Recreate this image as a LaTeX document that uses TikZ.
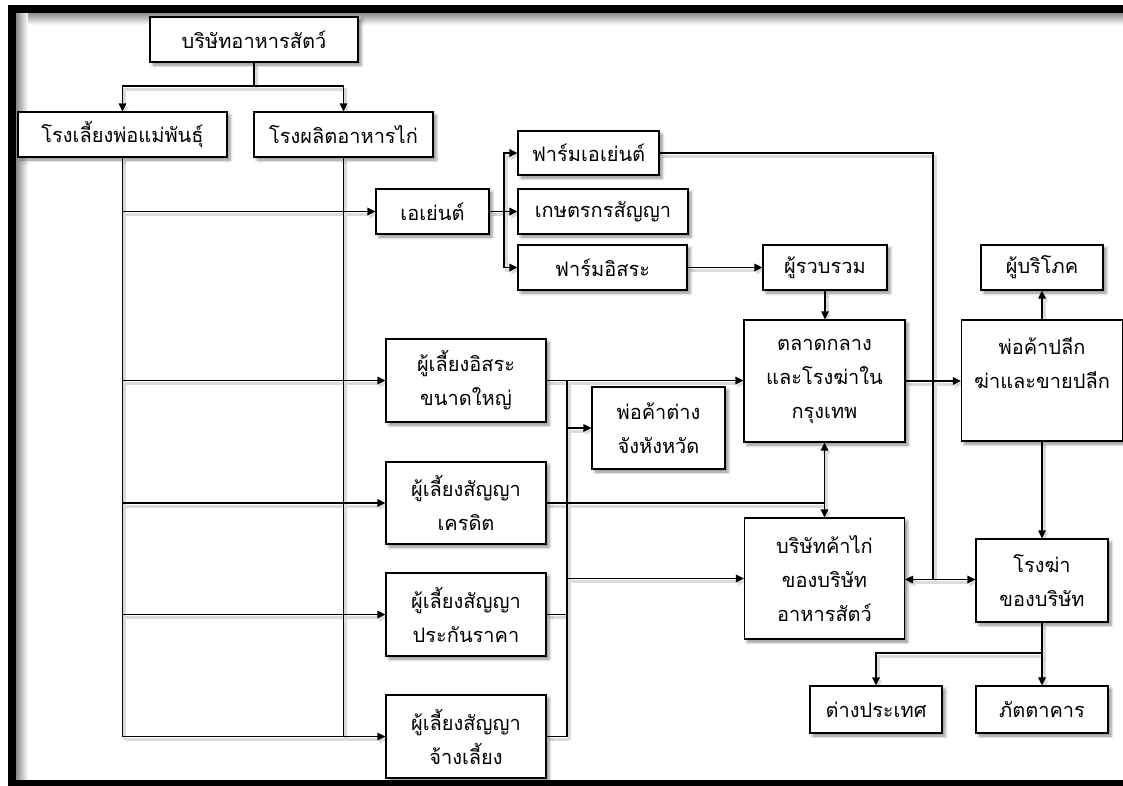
\documentclass[tikz,border=0pt]{standalone}
\usepackage{fontspec}
\newfontfamily\thaifont[Script=Thai]{Loma}
\usetikzlibrary{arrows.meta,shadows.blur}
\pgfdeclarelayer{bg}
\pgfsetlayers{bg,main}

\tikzset{
  box/.style={draw, line width=1.1pt, fill=white, inner sep=2pt, align=center,
    font=\thaifont\fontsize{20}{34}\selectfont,
    blur shadow={shadow xshift=3pt, shadow yshift=-3pt, shadow blur radius=3pt, shadow opacity=45}},
  conn/.style={line width=1.1pt},
  arr/.style={conn, -{Triangle[length=8pt,width=7.5pt]}},
  darr/.style={conn, {Triangle[length=8pt,width=7.5pt]}-{Triangle[length=8pt,width=7.5pt]}},
}
% \bx{name}{x}{y}{width}{height}{text}
\newcommand\bx[6]{\node[box, minimum width=#4pt, minimum height=#5pt] (#1) at (#2,#3) {#6};}

% all connectors, drawn once as a soft shadow and once in black
\newcommand\connectors{%
  % head office to its two units
  \coordinate (t1) at (254,86);
  \draw[conn] (top.south) -- (t1);
  \draw[arr] (t1) -| (breed.north);
  \draw[arr] (t1) -| (feed.north);
  % two trunks running down the left side
  \draw[conn] (breed.south) -- (breed.south |- hire.west);
  \draw[conn] (feed.south) -- (feed.south |- hire.west);
  \draw[arr] (breed.south |- agent.west) -- (agent.west);
  \draw[arr] (breed.south |- bigfree.west) -- (bigfree.west);
  \draw[arr] (breed.south |- credit.west) -- (credit.west);
  \draw[arr] (breed.south |- price.west) -- (price.west);
  \draw[arr] (breed.south |- hire.west) -- (hire.west);
  % agent splits into three farm types
  \coordinate (a1) at (504,211.5);
  \draw[conn] (agent.east) -- (a1);
  \draw[arr] (a1) |- (fagent.west);
  \draw[arr] (a1) -- (contract.west);
  \draw[arr] (a1) |- (ffree.west);
  % agent farms to the company's outlets
  \coordinate (j2) at (933,579.5);
  \draw[conn] (fagent.east) -| (j2);
  \draw[arr] (j2) -- (j2 -| company.east);
  \draw[arr] (j2) -- (j2 -| slaughter.west);
  % independent farms via collectors to the Bangkok market
  \draw[arr] (ffree.east) -- (collector.west);
  \draw[arr] (collector.south) -- (collector.south |- market.north);
  \draw[arr] (market.east) -- (market.east -| retail.west);
  \draw[arr] (retail.north) -- (consumer.south);
  \draw[arr] (retail.south) -- (slaughter.north);
  % large independent growers
  \coordinate (v1) at (567,380.5);
  \coordinate (v2) at (567,736.5);
  \draw[arr] (bigfree.east) -- (bigfree.east -| market.west);
  \draw[conn] (v1) -- (v2);
  \draw[arr] (v1 |- provincial.west) -- (provincial.west);
  % contract growers
  \draw[conn] (price.east) -- (price.east -| v1);
  \draw[conn] (hire.east) -- (v2);
  \draw[arr] (v1 |- company.west) -- (company.west);
  \coordinate (c1) at (market.south |- credit.east);
  \draw[conn] (credit.east) -- (c1);
  \draw[darr] (market.south) -- (company.north);
  % company slaughterhouse outlets
  \coordinate (s1) at (1042,653);
  \draw[conn] (slaughter.south) -- (s1);
  \draw[arr] (s1) -| (abroad.north);
  \draw[arr] (s1) -- (restaurant.north);
}

\begin{document}
\begin{tikzpicture}[x=1pt,y=-1pt]
\useasboundingbox (0,0) rectangle (1123,785);
\clip (0,0) rectangle (1123,785);

% frame with inner shading
\shade[top color=black!45, bottom color=white] (16,13) rectangle (1123,25);
\shade[left color=black!45, right color=white] (16,13) rectangle (28,780);
\draw[line width=8pt] (1130,9) -- (12,9) -- (12,784) -- (1130,784);

% boxes
\bx{top}{254}{39.5}{208}{45}{บริษัทอาหารสัตว์}
\bx{breed}{122.5}{134.5}{209}{45}{โรงเลี้ยงพ่อแม่พันธุ์}
\bx{feed}{343.5}{134.5}{179}{45}{โรงผลิตอาหารไก่}
\bx{agent}{432.5}{211.5}{113}{45}{เอเย่นต์}
\bx{fagent}{588.5}{153}{141}{44}{ฟาร์มเอเย่นต์}
\bx{contract}{603}{211.5}{170}{45}{เกษตรกรสัญญา}
\bx{ffree}{602.5}{267.5}{169}{45}{ฟาร์มอิสระ}
\bx{collector}{825}{267.5}{124}{45}{ผู้รวบรวม}
\bx{consumer}{1042}{267.5}{122}{45}{ผู้บริโภค}
\bx{market}{824.5}{381}{161}{122}{ตลาดกลาง\\และโรงฆ่าใน\\กรุงเทพ}
\bx{retail}{1042}{380.5}{161}{121}{พ่อค้าปลีก\\ฆ่าและขายปลีก\\\mbox{}}
\bx{bigfree}{466}{380.5}{160}{83}{ผู้เลี้ยงอิสระ\\ขนาดใหญ่}
\bx{provincial}{658.5}{428}{133}{82}{พ่อค้าต่าง\\จังหังหวัด}
\bx{credit}{466}{503}{160}{82}{ผู้เลี้ยงสัญญา\\เครดิต}
\bx{price}{466}{614.5}{160}{83}{ผู้เลี้ยงสัญญา\\ประกันราคา}
\bx{hire}{466}{736.5}{160}{83}{ผู้เลี้ยงสัญญา\\จ้างเลี้ยง}
\bx{company}{824.5}{578.5}{160}{121}{บริษัทค้าไก่\\ของบริษัท\\อาหารสัตว์}
\bx{slaughter}{1042}{580.5}{132}{83}{โรงฆ่า\\ของบริษัท}
\bx{abroad}{876}{709.5}{132}{47}{ต่างประเทศ}
\bx{restaurant}{1042}{709.5}{132}{47}{ภัตตาคาร}

\begin{pgfonlayer}{bg}
  \begin{scope}[transform canvas={xshift=2pt,yshift=-3pt}]
    \tikzset{conn/.style={draw=black!14, line width=3pt}}
    \connectors
  \end{scope}
  \connectors
\end{pgfonlayer}
\end{tikzpicture}
\end{document}
